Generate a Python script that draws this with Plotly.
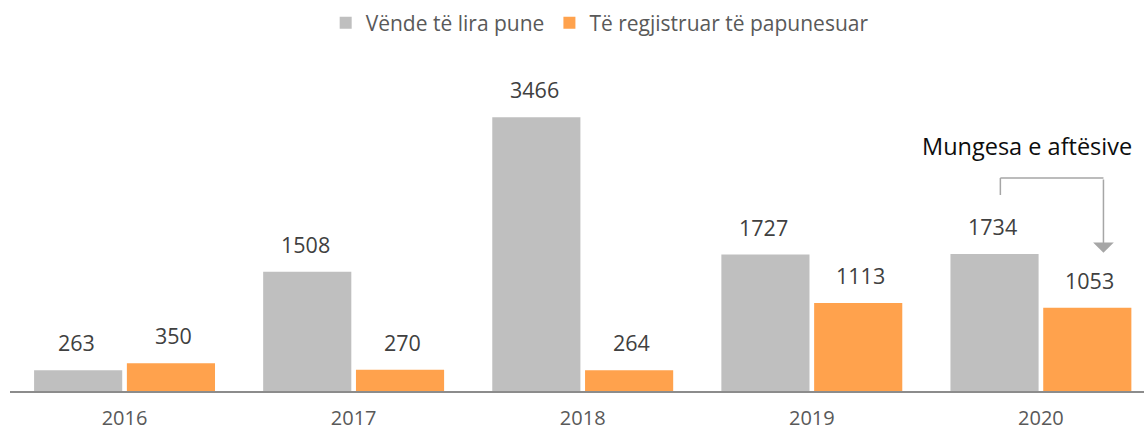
import plotly.graph_objects as go

years = ["2016", "2017", "2018", "2019", "2020"]
vende = [263, 1508, 3466, 1727, 1734]
papunesuar = [350, 270, 264, 1113, 1053]
name_vende = "Vënde të lira pune"
name_pap = "Të regjistruar të papunesuar"
note = "Mungesa e aftësive"

FONT = "Open Sans"
TXT = "#404040"
fig = go.Figure()
fig.add_bar(x=years, y=vende, name=name_vende, marker_color="#bfbfbf", marker_line_width=0)
fig.add_bar(x=years, y=papunesuar, name=name_pap, marker_color="#ffa24d", marker_line_width=0)

# data labels (category index positions)
for series, shift in ((vende, -48.5), (papunesuar, 48.5)):
    for i, v in enumerate(series):
        fig.add_annotation(x=i, y=v, xref="x", yref="y", text=str(v), showarrow=False,
                           xshift=shift, yshift=11, yanchor="bottom",
                           font=dict(size=21.5, color=TXT, family=FONT))

# bracket arrow
gc = "#a6a6a6"
fig.add_shape(type="line", x0=3.823, x1=3.823, y0=2481, y1=2696, line=dict(color=gc, width=1.5))
fig.add_shape(type="line", x0=3.823, x1=4.273, y0=2696, y1=2696, line=dict(color=gc, width=1.5))
fig.add_annotation(x=4.273, y=1750, ax=4.273, ay=2696, axref="x", ayref="y", xref="x", yref="y",
                   showarrow=True, arrowhead=1, arrowsize=2.3, arrowwidth=1.5, arrowcolor=gc, text="")
fig.add_annotation(x=3.94, y=3100, xref="x", yref="y", text=note, showarrow=False,
                   font=dict(size=23.5, color="#0d0d0d", family=FONT))

fig.update_layout(
    width=1144, height=432,
    margin=dict(l=10, r=0, t=60, b=41, autoexpand=False),
    plot_bgcolor="white", paper_bgcolor="white",
    barmode="group", bargap=0.19, bargroupgap=0.05,
    showlegend=True,
    legend=dict(orientation="h", x=0.52, xanchor="center", y=1 - 23 / 432, yanchor="middle",
                yref="container", font=dict(size=21, color="#595959", family=FONT),
                itemwidth=30, traceorder="normal"),
    xaxis=dict(range=[-0.5, 4.45], showline=True, linecolor="#8c8c8c", linewidth=1.5,
               ticks="", tickfont=dict(size=20, color="#595959", family=FONT), showgrid=False,
               automargin=False, ticklabelstandoff=8),
    yaxis=dict(range=[0, 4190], visible=False, showgrid=False, automargin=False),
    font=dict(family=FONT),
)
fig.write_html("out.html", config={"displayModeBar": False},
               post_script="document.body.style.margin='0';document.body.style.overflow='hidden';")
